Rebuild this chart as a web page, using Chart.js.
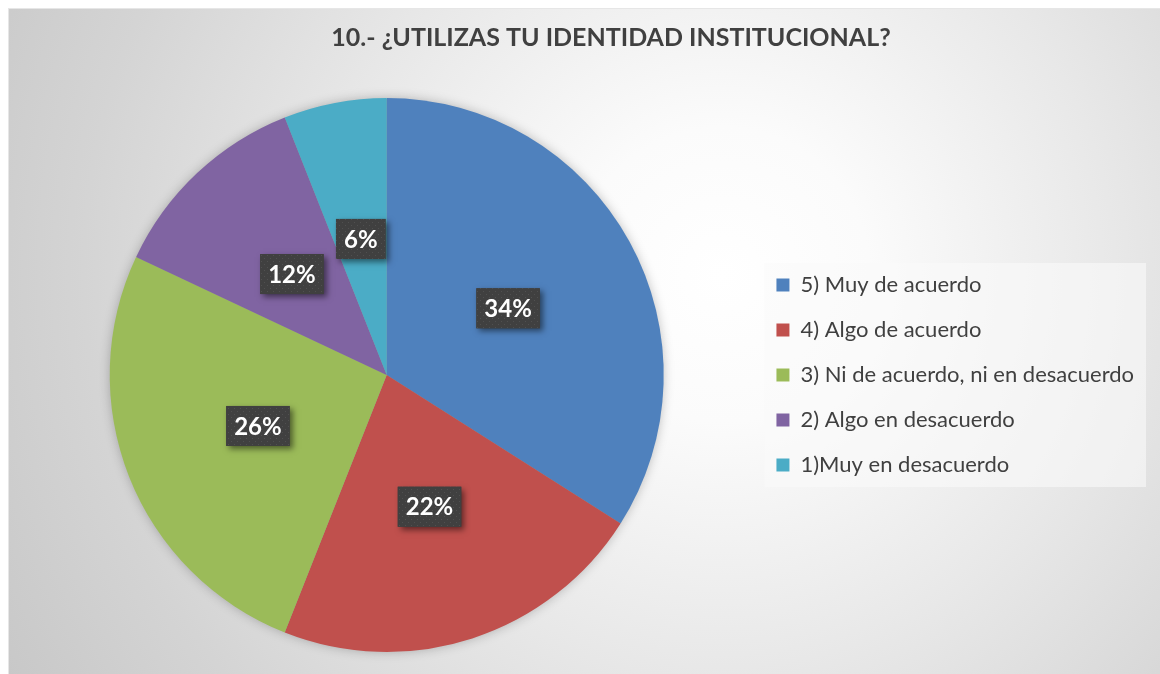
<!DOCTYPE html>
<html>
<head>
<meta charset="utf-8">
<script src="https://cdn.jsdelivr.net/npm/chart.js@4"></script>
<style>
  html, body { margin: 0; padding: 0; background: #fff; }
  #frame {
    position: absolute; left: 8px; top: 8px; width: 1152px; height: 666px;
    background: radial-gradient(circle farthest-corner at 62% 40%, #ffffff 0%, #fbfbfb 18%, #e8e8e8 48%, #d4d4d4 78%, #c8c8c8 100%);
    box-shadow: inset 1px 1px 0 #e6e6e6;
  }
  #c { position: absolute; left: 0; top: 0; }
</style>
</head>
<body>
<div id="frame"><canvas id="c" width="1152" height="666"></canvas></div>
<script>
const titleText = "10.- ¿UTILIZAS TU IDENTIDAD INSTITUCIONAL?";
const labels = ["5) Muy de acuerdo", "4) Algo de acuerdo", "3) Ni de acuerdo, ni en desacuerdo", "2) Algo en desacuerdo", "1)Muy en desacuerdo"];
const values = [34, 22, 26, 12, 6];
const colors = ["#4F81BD", "#C0504D", "#9BBB59", "#8064A2", "#4BACC6"];

// dotted fill for the label boxes
const tile = document.createElement("canvas");
tile.width = 6; tile.height = 6;
const tctx = tile.getContext("2d");
tctx.fillStyle = "#404040";
tctx.fillRect(0, 0, 6, 6);
tctx.fillStyle = "#505050";
tctx.fillRect(1, 1, 1, 1);
tctx.fillRect(4, 4, 1, 1);

const shiftTitle = {
  id: "shiftTitle",
  afterLayout(chart) {
    chart.titleBlock.left += 29;
    chart.titleBlock.right += 29;
  }
};

const legendPanel = {
  id: "legendPanel",
  beforeDraw(chart) {
    const lg = chart.legend;
    const ctx = chart.ctx;
    const cy = (lg.top + lg.bottom) / 2;
    ctx.save();
    ctx.fillStyle = "rgba(250,250,250,0.6)";
    ctx.fillRect(lg.left + 11, cy - 112, lg.right + 2 - (lg.left + 11), 224);
    ctx.restore();
  }
};

const pieShadow = {
  id: "pieShadow",
  beforeDatasetsDraw(chart) {
    const arc = chart.getDatasetMeta(0).data[0];
    const ctx = chart.ctx;
    ctx.save();
    ctx.shadowColor = "rgba(0,0,0,0.28)";
    ctx.shadowBlur = 12;
    ctx.beginPath();
    ctx.arc(arc.x, arc.y, arc.outerRadius - 1, 0, Math.PI * 2);
    ctx.fillStyle = "#999";
    ctx.fill();
    ctx.restore();
  }
};

const labelBoxes = {
  id: "labelBoxes",
  afterDatasetsDraw(chart) {
    const ctx = chart.ctx;
    const pattern = ctx.createPattern(tile, "repeat");
    ctx.save();
    ctx.font = "bold 24px Lato";
    ctx.textAlign = "center";
    ctx.textBaseline = "middle";
    chart.getDatasetMeta(0).data.forEach((arc, i) => {
      const p = arc.tooltipPosition();
      const txt = values[i] + "%";
      const w = ctx.measureText(txt).width + 16, h = 40;
      ctx.shadowColor = "rgba(0,0,0,0.5)";
      ctx.shadowBlur = 6;
      ctx.shadowOffsetX = 3;
      ctx.shadowOffsetY = 3;
      ctx.fillStyle = "#404040";
      ctx.fillRect(p.x - w / 2, p.y - h / 2, w, h);
      ctx.shadowColor = "transparent";
      ctx.fillStyle = pattern;
      ctx.fillRect(p.x - w / 2, p.y - h / 2, w, h);
      ctx.fillStyle = "#ffffff";
      ctx.fillText(txt, p.x, p.y + 1);
    });
    ctx.restore();
  }
};

new Chart(document.getElementById("c"), {
  type: "pie",
  data: {
    labels: labels,
    datasets: [{
      data: values,
      backgroundColor: colors,
      borderWidth: 0
    }]
  },
  options: {
    responsive: false,
    animation: false,
    layout: { padding: { left: 12, right: 16, top: 0, bottom: 22 } },
    plugins: {
      title: {
        display: true,
        text: titleText,
        color: "#404040",
        font: { family: "Lato", size: 25, weight: "bold" },
        padding: { top: 15, bottom: 45 }
      },
      legend: {
        position: "right",
        fullSize: false,
        labels: {
          color: "#404040",
          font: { family: "Lato", size: 22 },
          boxWidth: 13,
          boxHeight: 13,
          padding: 23
        }
      },
      tooltip: { enabled: false }
    }
  },
  plugins: [shiftTitle, legendPanel, pieShadow, labelBoxes]
});
</script>
</body>
</html>
